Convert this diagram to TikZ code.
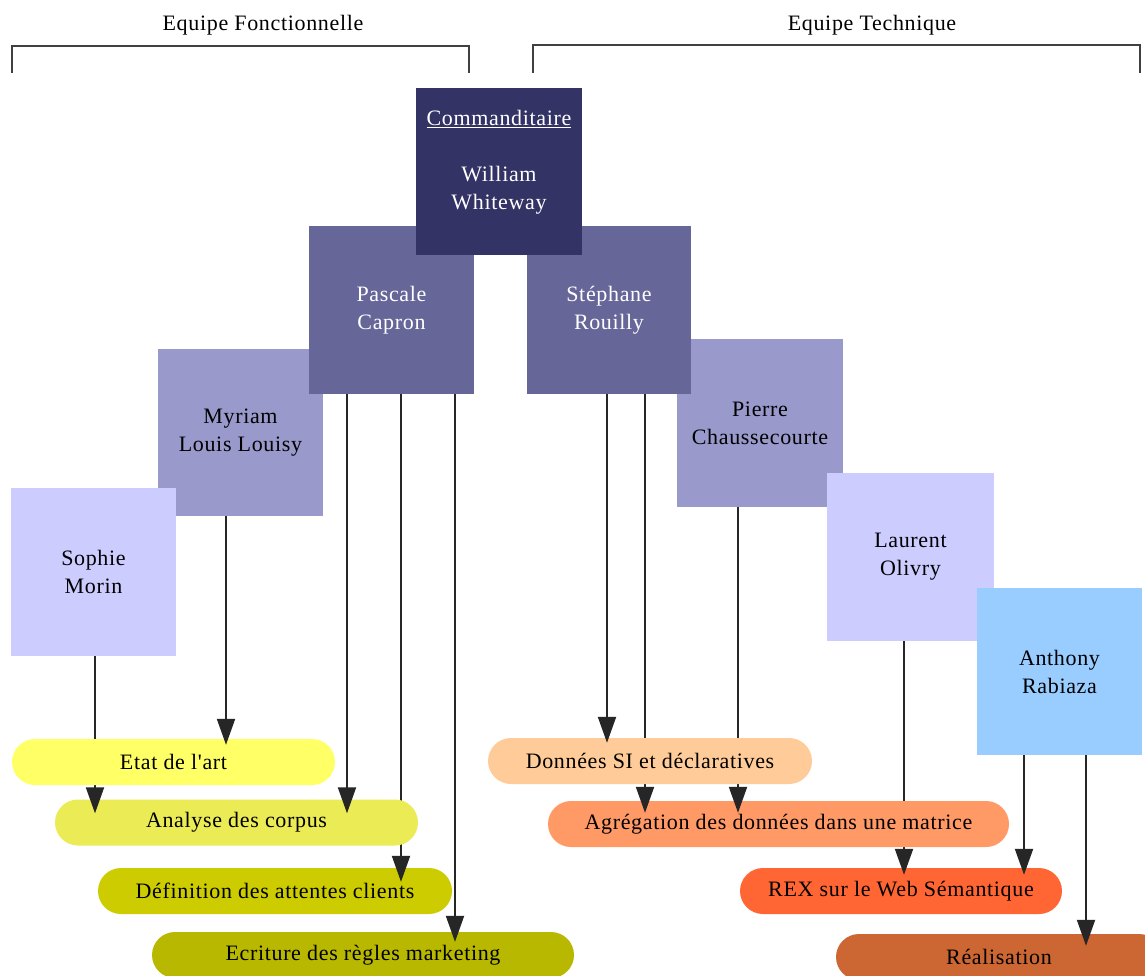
\documentclass[tikz,border=0pt]{standalone}
\usepackage{fontspec}
\setmainfont{Liberation Serif}[LetterSpace=3, Ligatures=TeXOff]
\usetikzlibrary{arrows.meta,calc}

% box and task colours
\definecolor{cNavy}{HTML}{333366}
\definecolor{cMid}{HTML}{666699}
\definecolor{cLav}{HTML}{9999CC}
\definecolor{cPale}{HTML}{CCCCFF}
\definecolor{cSky}{HTML}{99CCFF}
\definecolor{cY1}{HTML}{FFFF66}
\definecolor{cY2}{HTML}{EBEB55}
\definecolor{cY3}{HTML}{CCCC00}
\definecolor{cY4}{HTML}{B8B800}
\definecolor{cO1}{HTML}{FFCC99}
\definecolor{cO2}{HTML}{FF9966}
\definecolor{cO3}{HTML}{FF6633}
\definecolor{cO4}{HTML}{CC6633}

\newcommand\diafont{\fontsize{22}{28}\selectfont}

\tikzset{
  person/.style={rectangle, inner sep=0pt, minimum width=165pt, minimum height=167pt,
                 align=center, font=\diafont},
  task/.style={rectangle, rounded corners=23pt, inner sep=0pt, minimum height=46pt,
               font=\diafont, text=black},
  link/.style={draw=black!85, line width=2pt, -{Triangle[width=18pt,length=26pt]}},
  bracket/.style={draw=black!75, line width=2pt},
  teamlabel/.style={font=\diafont, inner sep=0pt},
}

% vertical link from a box (x offset from its centre) into a task (tip depth below its top)
\newcommand\drawlink[4]{%
  \draw[link] ($(#1.south)+(#2,0)$) coordinate (linkstart)
    -- ($(linkstart |- #3.north)+(0,#4)$);}

\begin{document}
\begin{tikzpicture}[x=1pt, y=-1pt]
  \useasboundingbox (0,0) rectangle (1145,976);
  \fill[white] (0,0) rectangle (1145,976);

  % team headers
  \node[teamlabel] (lblF) at (263,25) {Equipe Fonctionnelle};
  \node[teamlabel] (lblT) at (872,25) {Equipe Technique};
  \draw[bracket] (12,73) -- (12,46) -- (469,46) -- (469,73);
  \draw[bracket] (533,73) -- (533,45) -- (1140,45) -- (1140,73);

  % people, back to front
  \node[person, fill=cLav, minimum height=167pt] (myr) at (240.5,432.5) {Myriam\\Louis Louisy};
  \node[person, fill=cPale, minimum height=168pt] (sop) at (93.5,572) {Sophie\\Morin};
  \node[person, fill=cMid, text=white, minimum height=168pt] (pas) at (391.5,310) {Pascale\\Capron};
  \node[person, fill=cLav, minimum width=166pt, minimum height=168pt] (pie) at (760,423) {Pierre\\Chaussecourte};
  \node[person, fill=cPale, minimum width=167pt, minimum height=168pt] (lau) at (910.5,557) {Laurent\\Olivry};
  \node[person, fill=cSky, minimum height=167pt] (ant) at (1059.5,671.5) {Anthony\\Rabiaza};
  \node[person, fill=cMid, text=white, minimum width=164pt, minimum height=168pt] (ste) at (609,310) {Stéphane\\Rouilly};
  \node[person, fill=cNavy, minimum width=166pt, minimum height=167pt] (cmd) at (499,171.5) {};
  \node[font=\diafont, text=white, align=center, inner sep=0pt, anchor=north]
    (cmdtext) at ($(cmd.north)+(0,22)$) {\underline{Commanditaire}\\[28pt]William\\Whiteway};

  % functional tasks, bottom to top, each with its incoming links
  \node[task, fill=cY4, minimum width=422pt] (ecr) at (363,955) {Ecriture des règles marketing};
  \drawlink{pas}{63.5}{ecr}{10}
  \node[task, fill=cY3, minimum width=354pt] (def) at (275,891) {Définition des attentes clients};
  \drawlink{pas}{9.5}{def}{14}
  \node[task, fill=cY2, minimum width=363pt] (ana) at (236.5,822.5) {Analyse des corpus};
  \drawlink{sop}{1.5}{ana}{14}
  \drawlink{pas}{-44.5}{ana}{14}
  \node[task, fill=cY1, minimum width=323pt] (eta) at (173.5,762) {Etat de l'art};
  \drawlink{myr}{-14.5}{eta}{6}

  % technical tasks, bottom to top
  \node[task, fill=cO4, minimum width=326pt] (rea) at (999,957) {Réalisation};
  \drawlink{ant}{26.5}{rea}{12}
  \node[task, fill=cO3, minimum width=322pt] (rex) at (901,891) {REX sur le Web Sémantique};
  \drawlink{lau}{-6.5}{rex}{7}
  \drawlink{ant}{-35.5}{rex}{7}
  \node[task, fill=cO2, minimum width=461pt] (agr) at (778.5,824) {Agrégation des données dans une matrice};
  \drawlink{ste}{36}{agr}{12}
  \drawlink{pie}{-22}{agr}{12}
  \node[task, fill=cO1, minimum width=324pt] (don) at (650,761) {Données SI et déclaratives};
  \drawlink{ste}{-2}{don}{5}
\end{tikzpicture}
\end{document}
